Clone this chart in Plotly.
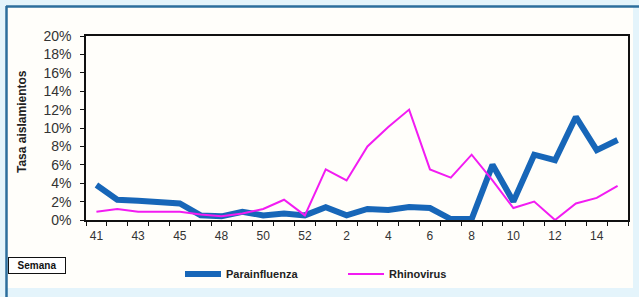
import plotly.graph_objects as go

weeks = ["41", "42", "43", "44", "45", "47", "48", "49", "50", "51", "52",
         "1", "2", "3", "4", "5", "6", "7", "8", "9", "10", "11", "12", "13", "14", "15"]
parainfluenza = [3.8, 2.2, 2.1, 2.0, 1.8, 0.5, 0.4, 0.9, 0.5, 0.7, 0.5,
                 1.4, 0.5, 1.2, 1.1, 1.4, 1.3, 0.1, 0.1, 6.0, 2.0, 7.1, 6.5, 11.2, 7.6, 8.7]
rhinovirus = [0.9, 1.2, 0.9, 0.9, 0.9, 0.6, 0.4, 0.7, 1.2, 2.2, 0.5,
              5.5, 4.3, 8.0, 10.1, 12.0, 5.5, 4.6, 7.1, 4.3, 1.3, 2.0, 0.0, 1.8, 2.4, 3.7]
y_ticks = [0, 2, 4, 6, 8, 10, 12, 14, 16, 18, 20]
x_ticktext = [w if i % 2 == 0 else "" for i, w in enumerate(weeks)]

# plot-area pixel geometry
W, H = 639, 297
L, R, T, B = 86, 11, 36, 77
pw, ph = W - L - R, H - T - B


def px(x):
    return (x - L) / pw


def py(y):
    return (H - B - y) / ph


fig = go.Figure()
fig.add_trace(go.Scatter(x=weeks, y=parainfluenza, mode="lines", name="<b>Parainfluenza</b>",
                         line=dict(color="#1766b8", width=6)))
fig.add_trace(go.Scatter(x=weeks, y=rhinovirus, mode="lines", name="<b>Rhinovirus</b>",
                         line=dict(color="#f21cf2", width=2)))

shapes = [
    dict(type="rect", xref="paper", yref="paper", x0=px(7), x1=px(633), y0=py(7), y1=py(288),
         fillcolor="#fffefa", line=dict(width=0), layer="below"),
    dict(type="line", xref="paper", yref="paper", x0=px(6), x1=px(639), y0=py(6.5), y1=py(6.5),
         line=dict(color="#2c6e9c", width=2.5), layer="below"),
    dict(type="line", xref="paper", yref="paper", x0=px(6.5), x1=px(6.5), y0=py(6), y1=py(297),
         line=dict(color="#2c6e9c", width=2.5), layer="below"),
]

annotations = [
    dict(text="<b>Tasa aislamientos</b>", xref="paper", yref="paper", x=px(22), y=py(122),
         xanchor="center", yanchor="middle",
         textangle=-90, showarrow=False, font=dict(family="Liberation Sans", size=12, color="#222")),
    dict(text="<b>Semana</b>", xref="paper", yref="paper", x=px(37), y=py(265),
         xanchor="center", yanchor="middle",
         showarrow=False, font=dict(family="Liberation Sans", size=10, color="#111"),
         bordercolor="#111", borderwidth=1, borderpad=2, bgcolor="#ffffff", width=52),
]

fig.update_layout(
    width=W, height=H,
    margin=dict(l=L, r=R, t=T, b=B, autoexpand=False),
    paper_bgcolor="#e4f4fb",
    plot_bgcolor="#ffffff",
    font=dict(family="Liberation Sans", color="#333"),
    shapes=shapes,
    annotations=annotations,
    showlegend=True,
    legend=dict(orientation="h", x=px(180), xanchor="left", y=py(274), yanchor="middle",
                bgcolor="rgba(0,0,0,0)", font=dict(family="Liberation Sans", size=11, color="#222"),
                entrywidth=112, entrywidthmode="pixels", itemwidth=36),
)
fig.update_xaxes(type="category", tickmode="array", tickvals=weeks, ticktext=x_ticktext,
                 tickson="boundaries", ticks="outside", ticklen=4, tickcolor="#111", tickangle=0,
                 showline=True, linecolor="#111", linewidth=1.5, mirror=True, showgrid=False,
                 automargin=False, ticklabelstandoff=4,
                 tickfont=dict(size=12, color="#333"), range=[-0.5, len(weeks) - 0.5])
fig.update_yaxes(range=[0, 20], tickmode="array", tickvals=y_ticks,
                 ticktext=[f"{v}%" for v in y_ticks], ticks="outside", ticklen=4, tickcolor="#111",
                 showline=True, linecolor="#111", linewidth=1.5, mirror=True, showgrid=False,
                 automargin=False, ticklabelstandoff=6,
                 zeroline=False, tickfont=dict(size=14, color="#333"))

fig.write_html("out.html", config={"displayModeBar": False},
               post_script="document.body.style.margin='0';document.body.style.background='#e4f4fb';")
